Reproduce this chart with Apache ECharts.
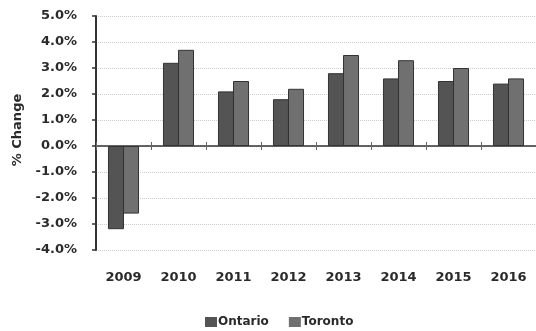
<!DOCTYPE html>
<html>
<head>
<meta charset="utf-8">
<script src="https://cdn.jsdelivr.net/npm/echarts@6/dist/echarts.min.js"></script>
<style>
  html, body { margin: 0; padding: 0; background: #fff; }
  #chart { width: 536px; height: 331px; }
</style>
</head>
<body>
<div id="chart"></div>
<script>
// Annual % change, Ontario vs Toronto
const years = ['2009', '2010', '2011', '2012', '2013', '2014', '2015', '2016'];
const ontario = [-3.2, 3.2, 2.1, 1.8, 2.8, 2.6, 2.5, 2.4];
const toronto = [-2.6, 3.7, 2.5, 2.2, 3.5, 3.3, 3.0, 2.6];
const yTicks = { min: -4, max: 5, step: 1 };

const FONT = 'DejaVu Sans';
const chart = echarts.init(document.getElementById('chart'), null, { renderer: 'canvas' });

chart.setOption({
  animation: false,
  backgroundColor: '#ffffff',
  textStyle: { fontFamily: FONT },
  grid: { left: 96, right: 0, top: 16, bottom: 81 },
  legend: {
    data: ['Ontario', 'Toronto'],
    bottom: -2,
    left: 200,
    itemWidth: 12,
    itemHeight: 10,
    itemGap: 20,
    icon: 'rect',
    itemStyle: { borderWidth: 0 },
    textStyle: { fontFamily: FONT, fontWeight: 'bold', fontSize: 12, color: '#2a2a2a', padding: [0, 0, 0, -4] }
  },
  xAxis: [
    {
      // category labels along the bottom
      type: 'category',
      data: years,
      position: 'bottom',
      axisLine: { show: false, onZero: false },
      axisTick: { show: false },
      axisLabel: { fontFamily: FONT, fontWeight: 'bold', fontSize: 13, color: '#2a2a2a', margin: 21 }
    },
    {
      // axis line on zero with ticks below it
      type: 'category',
      data: years,
      position: 'bottom',
      axisLine: { show: true, onZero: true, onZeroAxisIndex: 0, lineStyle: { color: '#333', width: 1.5 } },
      axisTick: { show: true, length: 4, lineStyle: { color: '#666' } },
      axisLabel: { show: false }
    },
    {
      // ticks above the zero line
      type: 'category',
      data: years,
      position: 'bottom',
      axisLine: { show: false, onZero: true, onZeroAxisIndex: 1 },
      axisTick: { show: true, inside: true, length: 4, lineStyle: { color: '#666' } },
      axisLabel: { show: false }
    }
  ],
  yAxis: [
    {
      type: 'value',
      min: yTicks.min,
      max: yTicks.max,
      interval: yTicks.step,
      name: '% Change',
      nameLocation: 'middle',
      nameGap: 72,
      nameTextStyle: { fontFamily: FONT, fontWeight: 'bold', fontSize: 13, color: '#2a2a2a', padding: [0, 0, 0, 6] },
      axisLine: { show: true, lineStyle: { color: '#333', width: 2 } },
      axisTick: { show: true, length: 4, lineStyle: { color: '#333', width: 1.5 } },
      axisLabel: {
        fontFamily: FONT, fontWeight: 'bold', fontSize: 13, color: '#2a2a2a', margin: 19,
        formatter: v => v.toFixed(1) + '%'
      },
      splitLine: { show: true, lineStyle: { color: '#cccccc', type: 'dotted', width: 1 } }
    },
    {
      // hidden twin scale used to place the upper tick row on zero
      type: 'value',
      min: yTicks.min,
      max: yTicks.max,
      interval: yTicks.step,
      show: false,
      splitLine: { show: false }
    }
  ],
  series: [
    {
      name: 'Ontario',
      type: 'bar',
      data: ontario,
      xAxisIndex: 0,
      yAxisIndex: 0,
      barWidth: 16,
      barGap: '-6%',
      itemStyle: { color: '#545454', borderColor: '#333333', borderWidth: 1 }
    },
    {
      name: 'Toronto',
      type: 'bar',
      data: toronto,
      xAxisIndex: 0,
      yAxisIndex: 0,
      barWidth: 16,
      barGap: '-6%',
      itemStyle: { color: '#707070', borderColor: '#333333', borderWidth: 1 }
    }
  ]
});
</script>
</body>
</html>
